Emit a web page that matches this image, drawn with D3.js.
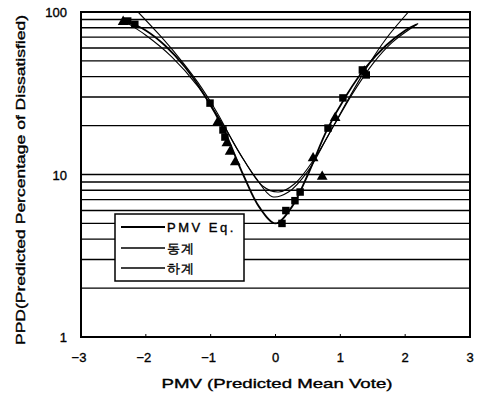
<!DOCTYPE html>
<html>
<head>
<meta charset="utf-8">
<script src="https://cdn.jsdelivr.net/npm/d3@7"></script>
<style>
  body { margin: 0; background: #fff; }
  text { font-family: "Liberation Sans", Arial, sans-serif; fill: #000; stroke: #000; stroke-width: 0.35px; }
</style>
</head>
<body>
<svg width="477" height="394"></svg>
<script>
// values
var pmvEqX = [-2.3, -2.0, -1.7, -1.4, -1.1, -0.8, -0.5, -0.25, 0, 0.25, 0.5, 0.8, 1.1, 1.4, 1.7, 2.0, 2.18];
var pmvEqY = [88, 77, 62, 46, 31, 19, 10, 6.3, 5, 6.3, 10, 19, 31, 46, 62, 77, 84];

var winterX = [-2.12, -1.8, -1.5, -1.2, -0.9, -0.6, -0.3, -0.05, 0.2, 0.5, 0.8, 1.1, 1.4, 1.7, 2.05];
var winterY = [100, 73, 53, 37, 24, 14.5, 9.5, 7.3, 7.8, 10.5, 17, 28, 45, 68, 100];

var summerX = [-2.3, -2.0, -1.6, -1.2, -0.8, -0.5, -0.2, 0.05, 0.3, 0.6, 0.9, 1.2, 1.5, 1.8, 2.2];
var summerY = [86, 72, 53, 35, 20, 12.5, 8.5, 7.8, 8.8, 12.5, 20, 32, 48, 65, 85];

var squareX = [-2.28, -2.17, -1.01, -0.81, -0.78, 0.10, 0.16, 0.30, 0.38, 0.81, 1.04, 1.34, 1.40];
var squareY = [88, 84, 27.5, 18.8, 17, 5.0, 6.0, 6.9, 7.8, 19.3, 29.6, 44, 41];

var triX = [-2.35, -0.89, -0.75, -0.70, -0.62, 0.58, 0.72, 0.92, 1.37];
var triY = [87, 21, 15.6, 13.8, 11.9, 12.6, 9.7, 22.3, 43];

var xTicks = [-3, -2, -1, 0, 1, 2, 3];
var yTicks = [1, 10, 100];
var gridVals = [2, 3, 4, 5, 6, 7, 8, 9, 10, 20, 30, 40, 50, 60, 70, 80, 90];

var legendLabels = ["PMV Eq.", "동계", "하계"];

var svg = d3.select("svg");

var x = d3.scaleLinear().domain([-3, 3]).range([81, 470]);
var y = d3.scaleLog().domain([1, 100]).range([337, 12]);

// horizontal grid
svg.append("g")
  .selectAll("line")
  .data(gridVals)
  .enter().append("line")
    .attr("x1", x(-3)).attr("x2", x(3))
    .attr("y1", function(d) { return y(d); })
    .attr("y2", function(d) { return y(d); })
    .attr("stroke", "#000")
    .attr("stroke-width", 1.4);

// bottom ticks (inward)
svg.append("g")
  .selectAll("line")
  .data(xTicks)
  .enter().append("line")
    .attr("x1", function(d) { return x(d); })
    .attr("x2", function(d) { return x(d); })
    .attr("y1", y(1)).attr("y2", y(1) - 3)
    .attr("stroke", "#000");

svg.append("defs").append("clipPath").attr("id", "clip")
  .append("rect")
    .attr("x", x(-3)).attr("y", y(100))
    .attr("width", x(3) - x(-3)).attr("height", y(1) - y(100));

var line = d3.line()
  .x(function(d) { return x(d[0]); })
  .y(function(d) { return y(d[1]); })
  .curve(d3.curveCatmullRom);

var curves = [
  { xs: winterX, ys: winterY, w: 1.1 },
  { xs: summerX, ys: summerY, w: 1.1 },
  { xs: pmvEqX, ys: pmvEqY, w: 1.8 }
];

svg.append("g").attr("clip-path", "url(#clip)")
  .selectAll("path")
  .data(curves)
  .enter().append("path")
    .attr("d", function(c) { return line(d3.zip(c.xs, c.ys)); })
    .attr("fill", "none")
    .attr("stroke", "#000")
    .attr("stroke-width", function(c) { return c.w; });

// markers
svg.append("g")
  .selectAll("path")
  .data(d3.zip(squareX, squareY))
  .enter().append("path")
    .attr("d", d3.symbol().type(d3.symbolSquare).size(56))
    .attr("transform", function(d) { return "translate(" + x(d[0]) + "," + y(d[1]) + ")"; })
    .attr("fill", "#000");

svg.append("g")
  .selectAll("path")
  .data(d3.zip(triX, triY))
  .enter().append("path")
    .attr("d", d3.symbol().type(d3.symbolTriangle).size(50))
    .attr("transform", function(d) { return "translate(" + x(d[0]) + "," + y(d[1]) + ")"; })
    .attr("fill", "#000");

// frame
svg.append("rect")
  .attr("x", x(-3)).attr("y", y(100))
  .attr("width", x(3) - x(-3)).attr("height", y(1) - y(100))
  .attr("fill", "none")
  .attr("stroke", "#000")
  .attr("stroke-width", 2);

// tick labels
svg.append("g")
  .selectAll("text")
  .data(yTicks)
  .enter().append("text")
    .attr("x", 67)
    .attr("y", function(d) { return y(d) + 5; })
    .attr("text-anchor", "end")
    .style("font-size", "13px")
    .text(function(d) { return d; });

svg.append("g")
  .selectAll("text")
  .data(xTicks)
  .enter().append("text")
    .attr("x", function(d) { return x(d) + (d < 0 ? -2 : 0); })
    .attr("y", 362)
    .attr("text-anchor", "middle")
    .style("font-size", "13px")
    .text(function(d) { return d < 0 ? "\u2212" + (-d) : d; });

// axis titles
svg.append("text")
  .attr("x", 277).attr("y", 388)
  .attr("text-anchor", "middle")
  .attr("textLength", 231)
  .attr("lengthAdjust", "spacingAndGlyphs")
  .style("font-size", "13px")
  .text("PMV (Predicted Mean Vote)");

svg.append("text")
  .attr("transform", "translate(25,180) rotate(-90)")
  .attr("text-anchor", "middle")
  .attr("textLength", 330)
  .attr("lengthAdjust", "spacingAndGlyphs")
  .style("font-size", "13px")
  .text("PPD(Predicted Percentage of Dissatisfied)");

// legend
var legend = svg.append("g");
legend.append("rect")
  .attr("x", 115).attr("y", 214)
  .attr("width", 129).attr("height", 67)
  .attr("fill", "#fff")
  .attr("stroke", "#000")
  .attr("stroke-width", 1.5);

var rows = legend.selectAll("g.row")
  .data(legendLabels)
  .enter().append("g")
    .attr("class", "row")
    .attr("transform", function(d, i) { return "translate(0," + [227, 248, 268][i] + ")"; });

rows.append("line")
  .attr("x1", 121).attr("x2", 165)
  .attr("stroke", "#000")
  .attr("stroke-width", function(d, i) { return i == 0 ? 2 : 1.5; });

rows.append("text")
  .attr("x", 167).attr("y", 5)
  .style("font-size", "13px")
  .style("letter-spacing", function(d, i) { return i == 0 ? "2.5px" : "1px"; })
  .text(function(d) { return d; });
</script>
</body>
</html>
